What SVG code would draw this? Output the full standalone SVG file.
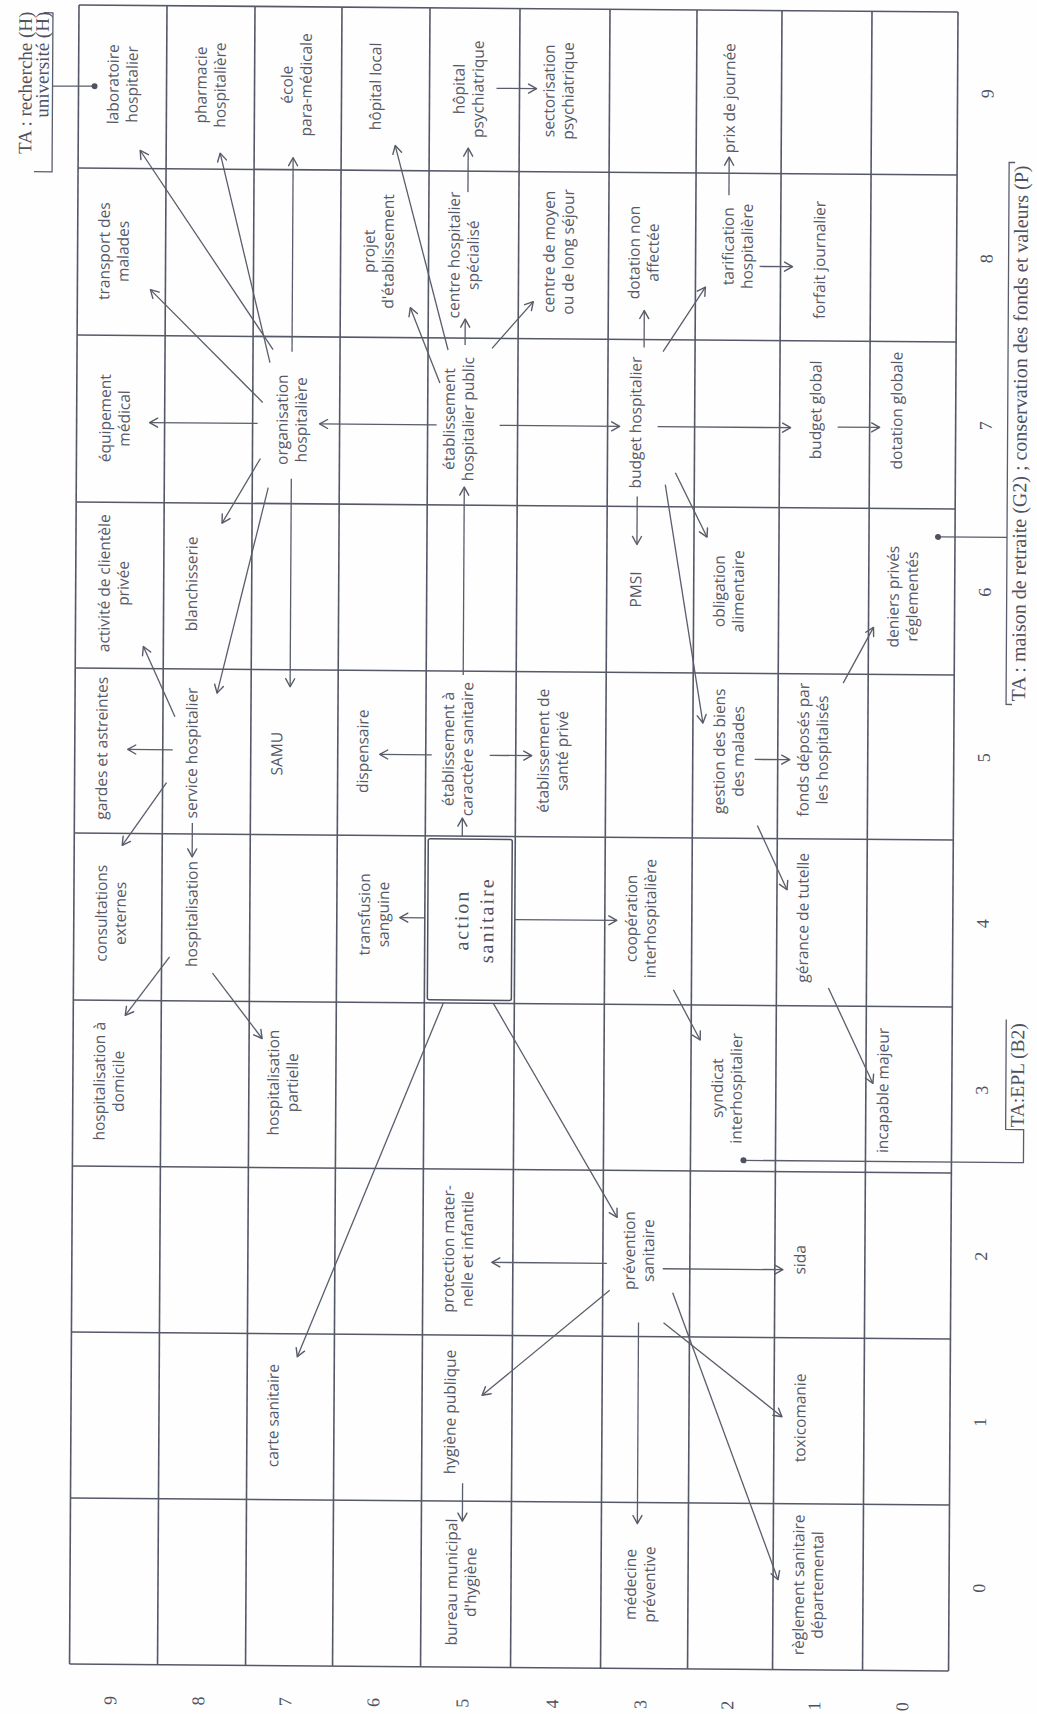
<svg xmlns="http://www.w3.org/2000/svg" width="1037" height="1714" viewBox="0 0 1037 1714">
<defs>
<marker id="ah" viewBox="-10 -6 12 12" refX="0" refY="0" markerWidth="12" markerHeight="12" markerUnits="userSpaceOnUse" orient="auto">
<path d="M-8,-4.5 L0,0 L-8,4.5" fill="none" stroke="#575a68" stroke-width="1.4" stroke-linecap="round" stroke-linejoin="round"/>
</marker>
</defs>
<style>
.t{font-family:"Open Sans","Noto Sans","DejaVu Sans",sans-serif;font-size:15.5px;fill:#565968;text-anchor:middle}
.s{font-family:"Liberation Serif","Times New Roman",serif;fill:#4e5161}
.n{font-family:"Liberation Serif","Times New Roman",serif;font-size:18px;fill:#4e5161;text-anchor:middle}
.grid line{stroke:#555867;stroke-width:1.6}
.c line{stroke:#5a5d6b;stroke-width:1.3;fill:none;marker-end:url(#ah)}
.b{stroke:#5a5d6b;stroke-width:1.3;fill:none}
.dot{fill:#4e5161}
</style>
<rect width="1037" height="1714" fill="#fefefe"/>
<g transform="matrix(1 0.008 -0.0057 1 0.03 -0.63)">
<g id="grid" class="grid">
<line x1="79" y1="5" x2="79" y2="1664"/>
<line x1="167" y1="5" x2="167" y2="1664"/>
<line x1="255" y1="5" x2="255" y2="1664"/>
<line x1="342" y1="5" x2="342" y2="1664"/>
<line x1="430" y1="5" x2="430" y2="1664"/>
<line x1="520" y1="5" x2="520" y2="1664"/>
<line x1="610" y1="5" x2="610" y2="1664"/>
<line x1="697" y1="5" x2="697" y2="1664"/>
<line x1="782" y1="5" x2="782" y2="1664"/>
<line x1="872" y1="5" x2="872" y2="1664"/>
<line x1="958" y1="5" x2="958" y2="1664"/>
<line x1="79" y1="5" x2="958" y2="5"/>
<line x1="79" y1="168" x2="958" y2="168"/>
<line x1="79" y1="335" x2="958" y2="335"/>
<line x1="79" y1="502" x2="958" y2="502"/>
<line x1="79" y1="668" x2="958" y2="668"/>
<line x1="79" y1="833" x2="958" y2="833"/>
<line x1="79" y1="1000" x2="958" y2="1000"/>
<line x1="79" y1="1166" x2="958" y2="1166"/>
<line x1="79" y1="1332" x2="958" y2="1332"/>
<line x1="79" y1="1498" x2="958" y2="1498"/>
<line x1="79" y1="1664" x2="958" y2="1664"/>
</g>
<g id="labels">
<text class="n" transform="translate(988 86.5) rotate(-90)" y="6">9</text>
<text class="n" transform="translate(988 251.5) rotate(-90)" y="6">8</text>
<text class="n" transform="translate(988 418.5) rotate(-90)" y="6">7</text>
<text class="n" transform="translate(988 585) rotate(-90)" y="6">6</text>
<text class="n" transform="translate(988 750.5) rotate(-90)" y="6">5</text>
<text class="n" transform="translate(988 916.5) rotate(-90)" y="6">4</text>
<text class="n" transform="translate(988 1083) rotate(-90)" y="6">3</text>
<text class="n" transform="translate(988 1249) rotate(-90)" y="6">2</text>
<text class="n" transform="translate(988 1415) rotate(-90)" y="6">1</text>
<text class="n" transform="translate(988 1581) rotate(-90)" y="6">0</text>
<text class="n" transform="translate(120 1700) rotate(-90)" y="6">9</text>
<text class="n" transform="translate(208 1700) rotate(-90)" y="6">8</text>
<text class="n" transform="translate(295 1700) rotate(-90)" y="6">7</text>
<text class="n" transform="translate(383 1700) rotate(-90)" y="6">6</text>
<text class="n" transform="translate(472 1700) rotate(-90)" y="6">5</text>
<text class="n" transform="translate(562 1700) rotate(-90)" y="6">4</text>
<text class="n" transform="translate(650 1700) rotate(-90)" y="6">3</text>
<text class="n" transform="translate(737 1700) rotate(-90)" y="6">2</text>
<text class="n" transform="translate(824 1700) rotate(-90)" y="6">1</text>
<text class="n" transform="translate(912 1700) rotate(-90)" y="6">0</text>
</g>
<g id="connectors" class="c">
<line x1="275" y1="348" x2="141" y2="150"/>
<line x1="272" y1="361" x2="221" y2="152"/>
<line x1="265" y1="401" x2="152" y2="289"/>
<line x1="294" y1="350" x2="294" y2="156"/>
<line x1="260" y1="422" x2="152" y2="422"/>
<line x1="263" y1="457" x2="225" y2="522"/>
<line x1="271" y1="486" x2="221" y2="692"/>
<line x1="294" y1="477" x2="294" y2="685"/>
<line x1="439" y1="422" x2="322" y2="422"/>
<line x1="177" y1="749" x2="132" y2="749"/>
<line x1="179" y1="716" x2="147" y2="646"/>
<line x1="171" y1="782" x2="127" y2="845"/>
<line x1="197" y1="822" x2="197" y2="856"/>
<line x1="175" y1="956" x2="131" y2="1015"/>
<line x1="218" y1="972" x2="268" y2="1037"/>
<line x1="442" y1="380" x2="412" y2="305"/>
<line x1="450" y1="347" x2="396" y2="143"/>
<line x1="467" y1="342" x2="467" y2="316"/>
<line x1="494" y1="345" x2="535" y2="298"/>
<line x1="502" y1="422" x2="622" y2="422"/>
<line x1="469" y1="189" x2="469" y2="145"/>
<line x1="497" y1="85" x2="537" y2="85"/>
<line x1="430" y1="915" x2="405" y2="915"/>
<line x1="467" y1="833" x2="467" y2="815"/>
<line x1="520" y1="916" x2="622" y2="916"/>
<line x1="449" y1="1000" x2="305" y2="1355"/>
<line x1="499" y1="1000" x2="624" y2="1213"/>
<line x1="436" y1="752" x2="384" y2="752"/>
<line x1="494" y1="752" x2="536" y2="752"/>
<line x1="467" y1="672" x2="467" y2="484"/>
<line x1="646" y1="343" x2="646" y2="306"/>
<line x1="665" y1="347" x2="707" y2="282"/>
<line x1="660" y1="422" x2="793" y2="422"/>
<line x1="840" y1="421" x2="882" y2="421"/>
<line x1="640" y1="492" x2="640" y2="540"/>
<line x1="678" y1="468" x2="710" y2="532"/>
<line x1="668" y1="480" x2="707" y2="718"/>
<line x1="730" y1="190" x2="730" y2="152"/>
<line x1="761" y1="261" x2="794" y2="261"/>
<line x1="759" y1="754" x2="794" y2="754"/>
<line x1="762" y1="820" x2="792" y2="884"/>
<line x1="847" y1="677" x2="877" y2="621"/>
<line x1="834" y1="982" x2="879" y2="1077"/>
<line x1="679" y1="985" x2="706" y2="1035"/>
<line x1="614" y1="1259" x2="499" y2="1259"/>
<line x1="670" y1="1264" x2="790" y2="1264"/>
<line x1="671" y1="1318" x2="790" y2="1411"/>
<line x1="680" y1="1288" x2="787" y2="1574"/>
<line x1="617" y1="1286" x2="490" y2="1392"/>
<line x1="646" y1="1318" x2="646" y2="1519"/>
<line x1="471" y1="1480" x2="471" y2="1518"/>
</g>
<g id="ta-recherche">
<path class="b" d="M44,13 H53 V172 H35 M53,86 H95"/>
<circle class="dot" cx="95" cy="86" r="3"/>
<text class="s" font-size="19" text-anchor="end" transform="translate(0 12) rotate(-90)"><tspan x="0" y="32">TA : recherche (H)</tspan><tspan x="0" y="49">université (H)</tspan></text>
</g>
<g id="ta-maison">
<path class="b" d="M1016,155 H1010 V697 H1016 M941,530 H1010"/>
<circle class="dot" cx="941" cy="530" r="3"/>
<text class="s" font-size="20" transform="translate(1029 694) rotate(-90)">TA : maison de retraite (G2) ; conservation des fonds et valeurs (P)</text>
</g>
<g id="ta-epl">
<path class="b" d="M750,1155 H1030 V1122 H1012 V1012"/>
<circle class="dot" cx="750" cy="1155" r="3"/>
<text class="s" font-size="19.5" transform="translate(1030 1120) rotate(-90)">TA:EPL (B2)</text>
</g>
<g id="n-laboratoire"><text class="t" transform="translate(123 84) rotate(-90)"><tspan x="0" y="-4">laboratoire</tspan><tspan x="0" y="15">hospitalier</tspan></text></g>
<g id="n-pharmacie"><text class="t" transform="translate(211 84) rotate(-90)"><tspan x="0" y="-4">pharmacie</tspan><tspan x="0" y="15">hospitalière</tspan></text></g>
<g id="n-ecole"><text class="t" transform="translate(297 83) rotate(-90)"><tspan x="0" y="-4">école</tspan><tspan x="0" y="15">para-médicale</tspan></text></g>
<g id="n-hopital-local"><text class="t" transform="translate(376 84) rotate(-90)" y="5.5">hôpital local</text></g>
<g id="n-hopital-psy"><text class="t" transform="translate(469 86) rotate(-90)"><tspan x="0" y="-4">hôpital</tspan><tspan x="0" y="15">psychiatrique</tspan></text></g>
<g id="n-sectorisation"><text class="t" transform="translate(559 87) rotate(-90)"><tspan x="0" y="-4">sectorisation</tspan><tspan x="0" y="15">psychiatrique</tspan></text></g>
<g id="n-prix"><text class="t" style="text-anchor:start" transform="translate(730 148) rotate(-90)" y="5.5">prix de journée</text></g>
<g id="n-transport"><text class="t" transform="translate(115 251) rotate(-90)"><tspan x="0" y="-4">transport des</tspan><tspan x="0" y="15">malades</tspan></text></g>
<g id="n-projet"><text class="t" transform="translate(380 249) rotate(-90)"><tspan x="0" y="-4">projet</tspan><tspan x="0" y="15">d'établissement</tspan></text></g>
<g id="n-chs"><text class="t" transform="translate(465 252) rotate(-90)"><tspan x="0" y="-4">centre hospitalier</tspan><tspan x="0" y="15">spécialisé</tspan></text></g>
<g id="n-moyen"><text class="t" transform="translate(560 248) rotate(-90)"><tspan x="0" y="-4">centre de moyen</tspan><tspan x="0" y="15">ou de long séjour</tspan></text></g>
<g id="n-dotation-non"><text class="t" transform="translate(645 248) rotate(-90)"><tspan x="0" y="-4">dotation non</tspan><tspan x="0" y="15">affectée</tspan></text></g>
<g id="n-tarification"><text class="t" transform="translate(739 241) rotate(-90)"><tspan x="0" y="-4">tarification</tspan><tspan x="0" y="15">hospitalière</tspan></text></g>
<g id="n-forfait"><text class="t" transform="translate(821 254) rotate(-90)" y="5.5">forfait journalier</text></g>
<g id="n-equipement"><text class="t" transform="translate(117 418) rotate(-90)"><tspan x="0" y="-4">équipement</tspan><tspan x="0" y="15">médical</tspan></text></g>
<g id="n-organisation"><text class="t" transform="translate(294 418) rotate(-90)"><tspan x="0" y="-4">organisation</tspan><tspan x="0" y="15">hospitalière</tspan></text></g>
<g id="n-ehp"><text class="t" transform="translate(461 416) rotate(-90)"><tspan x="0" y="-4">établissement</tspan><tspan x="0" y="15">hospitalier public</tspan></text></g>
<g id="n-budget-hosp"><text class="t" transform="translate(638 418) rotate(-90)" y="5.5">budget hospitalier</text></g>
<g id="n-budget-global"><text class="t" transform="translate(818 404) rotate(-90)" y="5.5">budget global</text></g>
<g id="n-dotation-globale"><text class="t" transform="translate(899 404) rotate(-90)" y="5.5">dotation globale</text></g>
<g id="n-activite"><text class="t" transform="translate(117 583) rotate(-90)"><tspan x="0" y="-4">activité de clientèle</tspan><tspan x="0" y="15">privée</tspan></text></g>
<g id="n-blanchisserie"><text class="t" transform="translate(195 583) rotate(-90)" y="5.5">blanchisserie</text></g>
<g id="n-pmsi"><text class="t" transform="translate(639 585) rotate(-90)" y="5.5">PMSI</text></g>
<g id="n-obligation"><text class="t" transform="translate(732 586) rotate(-90)"><tspan x="0" y="-4">obligation</tspan><tspan x="0" y="15">alimentaire</tspan></text></g>
<g id="n-deniers"><text class="t" transform="translate(906 590) rotate(-90)"><tspan x="0" y="-4">deniers privés</tspan><tspan x="0" y="15">réglementés</tspan></text></g>
<g id="n-gardes"><text class="t" transform="translate(106 748) rotate(-90)" y="5.5">gardes et astreintes</text></g>
<g id="n-service"><text class="t" transform="translate(196 752) rotate(-90)" y="5.5">service hospitalier</text></g>
<g id="n-samu"><text class="t" transform="translate(281 752) rotate(-90)" y="5.5">SAMU</text></g>
<g id="n-dispensaire"><text class="t" transform="translate(367 749) rotate(-90)" y="5.5">dispensaire</text></g>
<g id="n-ecs"><text class="t" transform="translate(462 746) rotate(-90)"><tspan x="0" y="-4">établissement à</tspan><tspan x="0" y="15">caractère sanitaire</tspan></text></g>
<g id="n-esp"><text class="t" transform="translate(557 747) rotate(-90)"><tspan x="0" y="-4">établissement de</tspan><tspan x="0" y="15">santé privé</tspan></text></g>
<g id="n-gestion"><text class="t" transform="translate(733 746) rotate(-90)"><tspan x="0" y="-4">gestion des biens</tspan><tspan x="0" y="15">des malades</tspan></text></g>
<g id="n-fonds"><text class="t" transform="translate(817 744) rotate(-90)"><tspan x="0" y="-4">fonds déposés par</tspan><tspan x="0" y="15">les hospitalisés</tspan></text></g>
<g id="n-consultations"><text class="t" transform="translate(116 913) rotate(-90)"><tspan x="0" y="-4">consultations</tspan><tspan x="0" y="15">externes</tspan></text></g>
<g id="n-hospitalisation"><text class="t" transform="translate(197 913) rotate(-90)" y="5.5">hospitalisation</text></g>
<g id="n-transfusion"><text class="t" transform="translate(379 912) rotate(-90)"><tspan x="0" y="-4">transfusion</tspan><tspan x="0" y="15">sanguine</tspan></text></g>
<g id="n-action">
<rect x="433" y="836" width="84" height="161" rx="2" class="b" style="stroke:#4e5161;stroke-width:1.5"/>
<text class="s" style="font-size:20px;letter-spacing:2px;text-anchor:middle" transform="translate(479 917) rotate(-90)"><tspan x="0" y="-5.5">action</tspan><tspan x="0" y="19.5">sanitaire</tspan></text>
</g>
<g id="n-cooperation"><text class="t" transform="translate(646 914) rotate(-90)"><tspan x="0" y="-4">coopération</tspan><tspan x="0" y="15">interhospitalière</tspan></text></g>
<g id="n-gerance"><text class="t" transform="translate(808 912) rotate(-90)" y="5.5">gérance de tutelle</text></g>
<g id="n-had"><text class="t" transform="translate(115 1081) rotate(-90)"><tspan x="0" y="-4">hospitalisation à</tspan><tspan x="0" y="15">domicile</tspan></text></g>
<g id="n-partielle"><text class="t" transform="translate(289 1081) rotate(-90)"><tspan x="0" y="-4">hospitalisation</tspan><tspan x="0" y="15">partielle</tspan></text></g>
<g id="n-syndicat"><text class="t" transform="translate(733 1083) rotate(-90)"><tspan x="0" y="-4">syndicat</tspan><tspan x="0" y="15">interhospitalier</tspan></text></g>
<g id="n-incapable"><text class="t" transform="translate(889 1084) rotate(-90)" y="5.5">incapable majeur</text></g>
<g id="n-protection"><text class="t" transform="translate(465 1246) rotate(-90)"><tspan x="0" y="-4">protection mater-</tspan><tspan x="0" y="15">nelle et infantile</tspan></text></g>
<g id="n-prevention"><text class="t" transform="translate(646 1246) rotate(-90)"><tspan x="0" y="-4">prévention</tspan><tspan x="0" y="15">sanitaire</tspan></text></g>
<g id="n-sida"><text class="t" transform="translate(807 1254) rotate(-90)" y="5.5">sida</text></g>
<g id="n-carte"><text class="t" transform="translate(281 1414) rotate(-90)" y="5.5">carte sanitaire</text></g>
<g id="n-hygiene"><text class="t" transform="translate(458 1409) rotate(-90)" y="5.5">hygiène publique</text></g>
<g id="n-toxicomanie"><text class="t" transform="translate(808 1412) rotate(-90)" y="5.5">toxicomanie</text></g>
<g id="n-bureau"><text class="t" transform="translate(470 1579) rotate(-90)"><tspan x="0" y="-4">bureau municipal</tspan><tspan x="0" y="15">d'hygiène</tspan></text></g>
<g id="n-medecine"><text class="t" transform="translate(649 1580) rotate(-90)"><tspan x="0" y="-4">médecine</tspan><tspan x="0" y="15">préventive</tspan></text></g>
<g id="n-reglement"><text class="t" transform="translate(817 1579) rotate(-90)"><tspan x="0" y="-4">règlement sanitaire</tspan><tspan x="0" y="15">départemental</tspan></text></g>
</g>
</svg>
